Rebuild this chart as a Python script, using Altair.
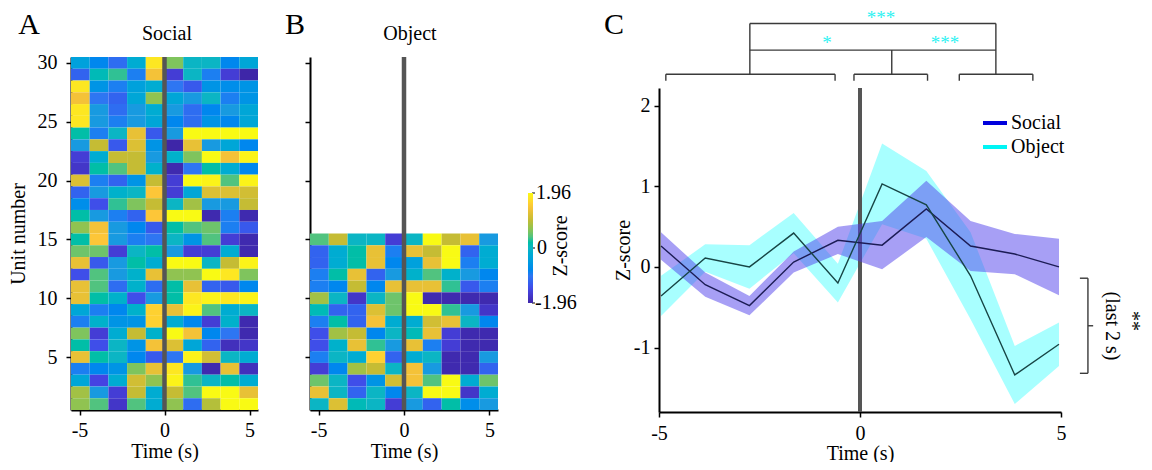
import altair as alt
import pandas as pd

FONT = "Liberation Serif"
FS = 20  # general text size

# ---------------- data ----------------
BIN_CENTERS = [-4.95, -3.85, -2.75, -1.65, -0.55, 0.55, 1.65, 2.75, 3.85, 4.95]
BIN_HALF = 0.55

SOCIAL_UNITS = list(range(30, 0, -1))
SOCIAL_Z = [
    [-0.4, -0.8, -1.1, -0.2, 1.8, 0.6, 0.0, 0.0, -0.8, -0.3],
    [-1.2, 0.1, 0.3, -0.9, 1.4, -1.6, 0.0, -0.9, -1.6, -1.96],
    [1.8, -0.6, -0.9, -0.4, -0.2, -1.0, -1.3, -0.6, -0.7, -0.6],
    [1.4, -1.0, -1.2, -0.3, 0.7, -0.3, -0.5, 0.0, -0.9, -0.6],
    [1.8, -0.5, -1.1, -0.5, -0.2, -0.5, -1.1, -0.8, -0.5, -0.3],
    [1.8, -0.5, -0.9, -0.5, -0.3, -0.8, -1.1, -0.6, -0.8, -0.3],
    [0.2, -0.9, 0.0, 1.3, -1.3, -0.5, 1.96, 1.96, 1.96, 1.96],
    [-0.5, 1.0, -1.3, 1.2, -0.6, -1.96, 1.3, -0.5, -0.3, -0.8],
    [-1.6, -0.2, 1.0, 1.0, -0.5, -0.1, 0.6, 1.96, 1.4, 1.9],
    [-1.7, 0.2, 0.4, 1.0, -0.1, -1.9, -1.0, 0.2, -0.2, -0.8],
    [1.2, -0.9, -1.2, -0.6, 1.0, -1.6, 1.96, 1.9, 0.4, 1.9],
    [-1.2, -0.5, -0.1, 0.0, 1.5, -1.6, -0.3, 1.2, 1.2, 1.1],
    [-0.7, -1.4, 0.3, 0.6, 1.0, 0.0, 0.8, -0.5, -0.5, 1.0],
    [0.2, -0.5, -0.9, -1.2, 1.5, 1.96, 1.96, -1.9, -0.9, -1.9],
    [0.7, 1.4, -0.5, -0.8, -1.3, 0.2, 0.4, 0.5, -0.9, -1.3],
    [0.2, 1.5, -0.5, -0.9, -1.0, 0.0, -0.6, 0.4, -1.6, -1.9],
    [0.5, 0.5, -1.6, 0.0, 0.2, -0.5, -1.6, -1.6, -0.2, -1.9],
    [1.3, -1.3, -0.5, 0.2, -0.2, 1.96, 1.96, 0.0, 1.0, 1.9],
    [-1.4, 0.4, -0.5, -0.1, 1.3, 0.7, 0.7, 1.96, 1.8, 0.6],
    [1.3, 0.4, -1.1, -0.1, -1.1, 0.2, 1.3, -1.2, -1.3, -0.8],
    [1.3, 0.2, -0.1, -1.4, -0.5, 0.2, 1.8, 1.9, 1.8, 1.9],
    [-0.3, -0.9, -0.8, -0.1, 1.6, 1.3, 1.9, 0.4, -0.2, 0.0],
    [-0.9, -0.1, -0.6, -0.6, 1.6, -0.2, -0.8, -1.6, -0.1, -1.9],
    [0.6, -1.6, -0.2, 1.0, -0.1, 1.96, 1.4, -0.8, -1.0, -1.9],
    [0.2, -1.4, 0.0, -0.6, 1.4, 1.2, -0.3, -1.2, -1.8, -1.7],
    [1.3, 0.2, 0.0, -0.8, -1.3, -1.0, 1.9, 1.1, 0.0, -0.2],
    [-0.9, -0.8, -0.6, 0.6, 1.3, 1.8, -0.5, -1.9, 1.3, -1.8],
    [-0.3, -1.5, -0.2, 1.1, 0.7, 1.9, 0.3, 0.0, 0.2, -0.2],
    [0.8, -0.5, -1.6, 1.0, -0.2, 1.0, 0.4, 1.96, 1.96, 1.3],
    [0.7, 0.4, -1.7, 0.4, -0.2, 0.7, -1.1, 0.9, 1.96, 1.96],
]

OBJECT_UNITS = list(range(15, 0, -1))
OBJECT_Z = [
    [0.4, 1.0, 0.0, 0.0, -1.6, 0.0, 1.96, 1.0, 1.3, -0.5],
    [-1.2, -0.2, 0.2, 1.3, -0.9, 1.3, 1.0, 1.96, -1.2, -0.2],
    [-1.2, -0.2, 0.2, 1.3, -0.8, -0.4, 1.3, 1.96, -0.9, -0.2],
    [-0.9, 0.2, 1.3, -1.2, -0.5, -0.1, 0.4, -0.1, -0.5, -0.8],
    [-0.9, -0.8, 1.0, -0.8, 1.3, 1.3, 1.3, 0.3, -1.3, -0.9],
    [0.8, 0.0, -1.7, 0.0, 0.5, 1.96, -1.9, -1.9, -1.9, -1.9],
    [0.1, -1.2, -1.2, 1.2, 0.5, 1.96, 1.96, 0.3, -0.5, -1.7],
    [-0.9, 0.2, -1.2, 1.4, -0.2, -0.2, 1.1, 1.3, 0.0, -0.8],
    [-1.4, 0.8, 1.0, -0.8, 0.0, 0.1, 1.3, -1.6, -1.9, -1.9],
    [-1.4, -0.1, 1.3, 0.3, -0.5, 1.3, -0.9, -1.6, -1.9, -1.9],
    [-0.9, 0.0, -0.2, 1.6, -1.2, -0.2, 0.0, -1.9, -1.9, -0.5],
    [-1.6, -0.8, 0.8, 1.0, 0.0, 1.4, -0.5, -1.9, -1.9, -1.2],
    [0.5, 0.0, -1.4, -0.6, 1.1, 1.4, 0.4, 1.96, -0.2, 0.5],
    [1.3, 0.0, -1.2, 0.0, -0.8, 0.0, 1.96, 1.96, -1.7, -0.2],
    [0.0, 1.2, 0.1, 0.0, -1.6, -0.5, -1.2, 0.2, -0.7, -0.5],
]

SOCIAL_MEAN = [0.26, -0.22, -0.48, 0.06, 0.33, 0.27, 0.72, 0.26, 0.16, 0.0]
SOCIAL_SEM = [0.17, 0.15, 0.12, 0.13, 0.17, 0.30, 0.35, 0.31, 0.25, 0.35]
OBJECT_MEAN = [-0.36, 0.11, 0.0, 0.42, -0.20, 1.03, 0.77, -0.11, -1.34, -0.96]
OBJECT_SEM = [0.25, 0.17, 0.27, 0.25, 0.24, 0.50, 0.42, 0.54, 0.36, 0.27]

Z_TICK_LABELS = ["1.96", "0", "-1.96"]
PARULA = ["#3e26a8", "#4545e6", "#2e78f2", "#1a9bdf", "#0bb5c4",
          "#6cc46c", "#c3bc34", "#fcc33a", "#f9fa14"]
PARULA_STOPS = [-1.96, -1.47, -0.98, -0.49, 0.0, 0.49, 0.98, 1.47, 1.96]


def heat_table(units, zrows):
    rows = []
    for u, vals in zip(units, zrows):
        for c, v in zip(BIN_CENTERS, vals):
            rows.append({"x0": c - BIN_HALF, "x1": c + BIN_HALF,
                         "y0": u - 0.5, "y1": u + 0.5, "z": v})
    return pd.DataFrame(rows)


dfA = heat_table(SOCIAL_UNITS, SOCIAL_Z)
dfB = heat_table(OBJECT_UNITS, OBJECT_Z)
dfC = pd.DataFrame({
    "t": BIN_CENTERS,
    "s_mean": SOCIAL_MEAN,
    "s_lo": [m - e for m, e in zip(SOCIAL_MEAN, SOCIAL_SEM)],
    "s_hi": [m + e for m, e in zip(SOCIAL_MEAN, SOCIAL_SEM)],
    "o_mean": OBJECT_MEAN,
    "o_lo": [m - e for m, e in zip(OBJECT_MEAN, OBJECT_SEM)],
    "o_hi": [m + e for m, e in zip(OBJECT_MEAN, OBJECT_SEM)],
})

W, H = 1136, 454          # view = page minus the 8px margin
LBL = "'' + datum.value"
cscale = alt.Scale(domain=PARULA_STOPS, range=PARULA, clamp=True)
UNIT_TICKS = [5, 10, 15, 20, 25, 30]

# ---------------- panel A ----------------
xA = alt.Scale(domain=[-5.5, 5.5], range=[63, 250], nice=False, zero=False)
yA = alt.Scale(domain=[0.5, 30.5], range=[402, 49], nice=False, zero=False)
heatA = alt.Chart(dfA).mark_rect(strokeWidth=0).encode(
    x=alt.X("x0:Q", scale=xA, axis=alt.Axis(
        orient="bottom", offset=-(H - 402), values=[-5, 0, 5], labelExpr=LBL,
        title="Time (s)", labelPadding=5, titlePadding=1)),
    x2="x1:Q",
    y=alt.Y("y0:Q", scale=yA, axis=alt.Axis(
        orient="left", offset=-63, values=UNIT_TICKS, labelExpr=LBL,
        title="Unit number", labelPadding=9, titlePadding=9)),
    y2="y1:Q",
    color=alt.Color("z:Q", scale=cscale, legend=alt.Legend(
        orient="none", legendX=520, legendY=185, direction="vertical",
        gradientLength=110, gradientThickness=5, title="", labelExpr="''",
        padding=0, gradientStrokeWidth=0)),
)
ruleA = alt.Chart(pd.DataFrame({"t": [0], "a": [0.5], "b": [30.5]})).mark_rule(
    color="#555555", strokeWidth=4.5).encode(
    x=alt.X("t:Q", scale=xA), y=alt.Y("a:Q", scale=yA), y2="b:Q")
panelA = alt.layer(heatA, ruleA)

# ---------------- panel B ----------------
xB = alt.Scale(domain=[-5.5, 5.5], range=[302, 490], nice=False, zero=False)
yB = alt.Scale(domain=[0.5, 30.5], range=[402, 49], nice=False, zero=False)
heatB = alt.Chart(dfB).mark_rect(strokeWidth=0).encode(
    x=alt.X("x0:Q", scale=xB, axis=alt.Axis(
        orient="bottom", offset=-(H - 402), values=[-5, 0, 5], labelExpr=LBL,
        title="Time (s)", labelPadding=5, titlePadding=1)),
    x2="x1:Q",
    y=alt.Y("y0:Q", scale=yB, axis=alt.Axis(
        orient="left", offset=-302, values=UNIT_TICKS, labels=False, title="")),
    y2="y1:Q",
    color=alt.Color("z:Q", scale=cscale),
)
ruleB = alt.Chart(pd.DataFrame({"t": [0], "a": [0.5], "b": [30.5]})).mark_rule(
    color="#555555", strokeWidth=4.5).encode(
    x=alt.X("t:Q", scale=xB), y=alt.Y("a:Q", scale=yB), y2="b:Q")
panelB = alt.layer(heatB, ruleB)

# ---------------- panel C ----------------
xC = alt.Scale(domain=[-5, 5], range=[651, 1053], nice=False, zero=False)
yC = alt.Scale(domain=[-1.8, 2.22], range=[404, 80], nice=False, zero=False)

baseC = alt.Chart(dfC)
bandO = baseC.mark_area(color="#00ffff", opacity=0.34).encode(
    x=alt.X("t:Q", scale=xC, axis=alt.Axis(
        orient="bottom", offset=-(H - 404), values=[-5, 0, 5], labelExpr=LBL,
        title="Time (s)", labelPadding=6, titlePadding=0)),
    y=alt.Y("o_lo:Q", scale=yC, axis=alt.Axis(
        orient="left", offset=-651, values=[-1, 0, 1, 2], labelExpr=LBL,
        title="Z-score", labelPadding=4, titlePadding=0)),
    y2="o_hi:Q")
ruleC = alt.Chart(pd.DataFrame({"t": [0], "a": [-1.8], "b": [2.22]})).mark_rule(
    color="#555555", strokeWidth=4).encode(
    x=alt.X("t:Q", scale=xC), y=alt.Y("a:Q", scale=yC), y2="b:Q")
bandS = baseC.mark_area(color="#5040eb", opacity=0.5).encode(
    x=alt.X("t:Q", scale=xC), y=alt.Y("s_lo:Q", scale=yC), y2="s_hi:Q")
lineS = baseC.mark_line(color="#1c1c55", strokeWidth=1.4).encode(
    x=alt.X("t:Q", scale=xC), y=alt.Y("s_mean:Q", scale=yC))
lineO = baseC.mark_line(color="#174545", strokeWidth=1.4).encode(
    x=alt.X("t:Q", scale=xC), y=alt.Y("o_mean:Q", scale=yC))

# significance brackets, in time / z-score units of panel C
BR_X = [-4.83, -4.83, -0.62, -2.74, -0.15, -0.15, 1.68, 0.79, 2.47, 2.47, 4.30, 3.38,
        -2.74, -2.74, 5.47, 5.67, 5.47, 5.67]
BR_X2 = [-0.62, -4.83, -0.62, -2.74, 1.68, -0.15, 1.68, 0.79, 4.30, 2.47, 4.30, 3.38,
         3.38, 3.38, 5.67, 5.67, 5.67, 5.80]
BR_Y = [2.39, 2.31, 2.31, 2.39, 2.39, 2.31, 2.31, 2.39, 2.39, 2.31, 2.31, 2.39,
        2.69, 3.02, -0.14, -1.32, -1.32, -0.73]
BR_Y2 = [2.39, 2.39, 2.39, 3.02, 2.39, 2.39, 2.39, 2.69, 2.39, 2.39, 2.39, 3.02,
         2.69, 3.02, -0.14, -0.14, -1.32, -0.73]
brackets = alt.Chart(pd.DataFrame({"bx": BR_X, "bx2": BR_X2, "by": BR_Y, "by2": BR_Y2})
                     ).mark_rule(color="#3a3a3a", strokeWidth=1.4).encode(
    x=alt.X("bx:Q", scale=xC), x2="bx2:Q",
    y=alt.Y("by:Q", scale=yC), y2="by2:Q")

panelC = alt.layer(bandO, ruleC, bandS, lineS, lineO, brackets)


# ---------------- annotations (page pixel positions) ----------------
def txt(s, x, y, size=FS, angle=0, color="black", align="center", baseline="middle"):
    return alt.Chart(alt.Data(values=[{}])).mark_text(
        text=s, font=FONT, fontSize=size, angle=angle, color=color,
        align=align, baseline=baseline).encode(
        x=alt.value(x - 8), y=alt.value(y - 8))


def seg(x1, x2, y, color, width):
    return alt.Chart(alt.Data(values=[{}])).mark_rule(
        color=color, strokeWidth=width).encode(
        x=alt.value(x1 - 8), x2=alt.value(x2 - 8), y=alt.value(y - 8))


CYAN_STAR = "#2ef2f2"
notes = [
    txt("A", 29, 25, 30), txt("B", 295, 25, 30), txt("C", 614, 25, 30),
    txt("Social", 167, 34), txt("Object", 410, 34),
    # colour bar labels and ticks
    seg(532, 535, 193, "black", 1), seg(532, 535, 248, "black", 1),
    seg(532, 535, 303, "black", 1),
    txt(Z_TICK_LABELS[0], 536, 193, align="left"),
    txt(Z_TICK_LABELS[1], 537, 248, align="left"),
    txt(Z_TICK_LABELS[2], 535, 303, align="left"),
    txt("Z-score", 561, 246, angle=270),
    # significance stars
    txt("***", 881, 8.5, 19, color=CYAN_STAR, baseline="top"),
    txt("*", 827, 49, 19, color=CYAN_STAR, baseline="alphabetic"),
    txt("***", 945, 49, 19, color=CYAN_STAR, baseline="alphabetic"),
    txt("(last 2 s)", 1112, 326, angle=90),
    txt("**", 1126, 321, angle=90, baseline="alphabetic"),
    # legend
    seg(983, 1007, 123, "#0000dd", 4), seg(983, 1007, 147, "#00f5f5", 4),
    txt("Social", 1011, 123, align="left"),
    txt("Object", 1011, 147, align="left"),
]

chart = alt.layer(panelA, panelB, panelC, *notes).resolve_scale(
    x="independent", y="independent"
).properties(
    width=W, height=H, padding=0,
    autosize=alt.AutoSizeParams(type="none"),
).configure_axis(
    domainColor="black", domainWidth=2, tickColor="black", tickWidth=1.5,
    tickSize=5, labelFont=FONT, labelFontSize=FS, labelColor="black",
    titleFont=FONT, titleFontSize=FS, titleFontWeight="normal", titleColor="black",
    grid=False, labelFlush=False, labelOverlap=False,
).configure_view(strokeWidth=0)

chart.save("out.html", embed_options={"renderer": "svg", "actions": False})
